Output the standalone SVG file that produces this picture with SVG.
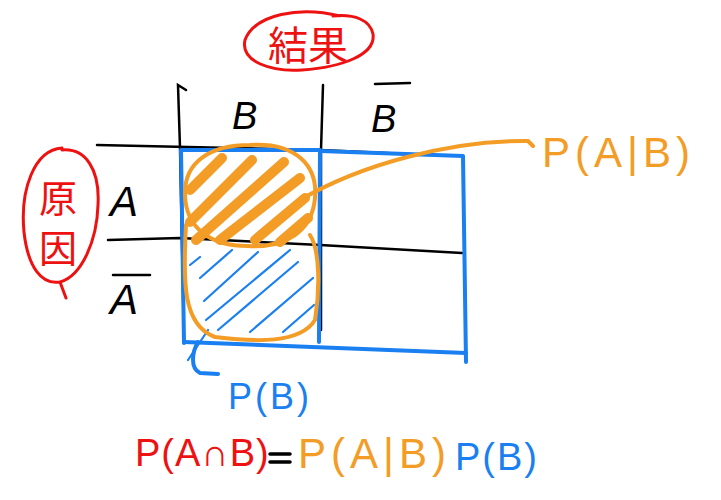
<svg xmlns="http://www.w3.org/2000/svg" width="721" height="500" viewBox="0 0 721 500">
<style>
.k{stroke:#000;stroke-width:2.5;fill:none;stroke-linecap:round}
.b{stroke:#1a7ff0;stroke-width:4;fill:none;stroke-linecap:round;stroke-linejoin:round}
.bh{stroke:#1a7ff0;stroke-width:2.2;fill:none;stroke-linecap:round}
.o{stroke:#f39c26;stroke-width:4;fill:none;stroke-linecap:round}
.oh{stroke:#f39c26;stroke-width:10;fill:none;stroke-linecap:round}
.r{stroke:#ee1111;stroke-width:3;fill:none;stroke-linecap:round}
.t{font-family:"Liberation Sans",Arial,sans-serif;font-weight:normal}
.j{font-family:"Noto Sans CJK JP",sans-serif;fill:#ee1111;text-anchor:middle}
</style>
<rect width="721" height="500" fill="#fff"/>
<g id="grid">
<path class="k" d="M186,90 L178,85 L180,148 L184,343"/>
<path class="k" d="M323,85 L321,150 L321,330"/>
<path class="k" d="M97,145 L320,150 L430,155"/>
<path class="k" d="M108,240 L180,238 L320,245 L462,253"/>
</g>
<g id="blue-box">
<path class="b" d="M184,343 L181,150 L320,150 L319,342"/>
<path class="b" d="M320,151 L463,156 L466,362"/>
<path class="b" d="M184,342 L466,353"/>
</g>
<g id="blue-hatch">
<path class="bh" d="M200,257 L190,265 M200,278 L232,250 M204,301 L258,252 M206,320 L290,250 M218,330 L298,262 M250,332 L313,278 M283,332 L314,305 M188,360 L208,330"/>
</g>
<g id="orange-hatch">
<path class="oh" d="M190,190 L222,158 M190,222 L252,160 M196,240 L284,162 M220,240 L300,178 M255,240 L305,198 M280,242 L308,218"/>
</g>
<g id="orange-shapes">
<path class="o" d="M250,145 C295,142 318,165 315,198 C312,232 285,248 248,246 C210,246 186,228 185,195 C184,162 210,145 250,145 Z"/>
<path class="o" d="M186,225 C183,280 182,325 215,337 C255,342 300,344 315,320 C320,290 320,250 310,235"/>
<path class="o" d="M300,200 C360,165 450,140 528,141 L533,146"/>
</g>
<g id="blue-bracket">
<path class="b" d="M198,342 C192,352 190,368 200,373 L218,374"/>
</g>
<g id="labels">
<text class="t" x="110" y="216" font-size="42" font-style="italic">A</text>
<text class="t" x="110" y="314" font-size="42" font-style="italic">A</text>
<path class="k" d="M113,275 L150,275"/>
<text class="t" x="232" y="129" font-size="38" font-style="italic">B</text>
<text class="t" x="371" y="132" font-size="38" font-style="italic">B</text>
<path class="k" d="M375,84 L410,83"/>
<text class="t" x="542" y="167" font-size="42" fill="#f39c26" letter-spacing="5">P(A|B)</text>
<text class="t" x="228" y="409" font-size="36" fill="#1a7ff0" letter-spacing="3">P(B)</text>
</g>
<g id="kekka">
<path class="r" d="M340,16 C300,6 255,14 245,40 C240,62 272,72 302,70 C342,67 376,55 373,34 C370,20 355,14 333,16"/>
<text class="j" x="308" y="60" font-size="40">結果</text>
</g>
<g id="genin">
<path class="r" d="M62,148 C34,150 20,190 24,232 C28,268 42,285 60,282 C82,276 97,240 98,205 C100,170 86,148 62,150 M60,282 L66,298"/>
<text class="j" x="58" y="212" font-size="38">原</text>
<text class="j" x="58" y="262" font-size="38">因</text>
</g>
<g id="equation">
<text class="t" x="135" y="466" font-size="38" fill="#ee1111" letter-spacing="1">P(A∩B)</text>
<path d="M270,454 L290,454 M270,462 L290,462" stroke="#000" stroke-width="3.5" stroke-linecap="round"/>
<text class="t" x="298" y="468" font-size="42" fill="#f39c26" letter-spacing="5">P(A|B)</text>
<text class="t" x="455" y="470" font-size="38" fill="#1a7ff0" letter-spacing="2">P(B)</text>
</g>
</svg>
